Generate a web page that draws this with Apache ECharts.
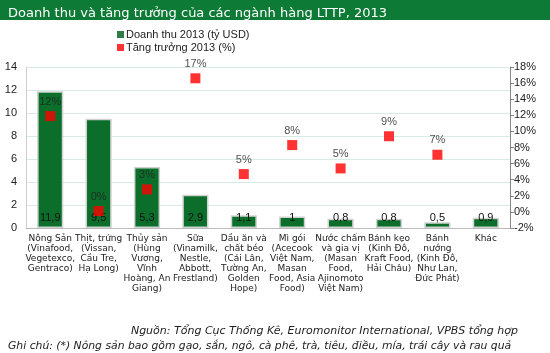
<!DOCTYPE html>
<html>
<head>
<meta charset="utf-8">
<script src="https://cdn.jsdelivr.net/npm/echarts@6/dist/echarts.min.js"></script>
<style>
  html, body { margin: 0; padding: 0; background: #fff; }
  #chart { width: 550px; height: 353px; }
</style>
</head>
<body>
<div id="chart"></div>
<script>
  // data
  const categories = [
    'Nông Sản\n(Vinafood,\nVegetexco,\nGentraco)',
    'Thịt, trứng\n(Vissan,\nCầu Tre,\nHạ Long)',
    'Thủy sản\n(Hùng\nVương,\nVĩnh\nHoàng, An\nGiang)',
    'Sữa\n(Vinamilk,\nNestle,\nAbbott,\nFrestland)',
    'Dầu ăn và\nchất béo\n(Cái Lân,\nTường An,\nGolden\nHope)',
    'Mì gói\n(Acecook\nViệt Nam,\nMasan\nFood, Asia\nFood)',
    'Nước chấm\nvà gia vị\n(Masan\nFood,\nAjinomoto\nViệt Nam)',
    'Bánh kẹo\n(Kinh Đô,\nKraft Food,\nHải Châu)',
    'Bánh\nnướng\n(Kinh Đô,\nNhư Lan,\nĐức Phát)',
    'Khác'
  ];
  const revenue = [11.9, 9.5, 5.3, 2.9, 1.1, 1, 0.8, 0.8, 0.5, 0.9];
  const growth = [11.9, 0.1, 2.8, 16.6, 4.7, 8.3, 5.4, 9.4, 7.1, null];

  const chart = echarts.init(document.getElementById('chart'));

  const options = {
    animation: false,
    title: [
      {
        text: 'Doanh thu và tăng trưởng của các ngành hàng LTTP, 2013',
        left: 3, top: 2,
        textStyle: { color: '#fff', fontFamily: 'DejaVu Sans', fontSize: 13, fontWeight: 'normal' }
      },
      {
        text: 'Nguồn: Tổng Cục Thống Kê, Euromonitor International, VPBS tổng hợp',
        right: 27, top: 321,
        textStyle: { color: '#222', fontFamily: 'DejaVu Sans', fontSize: 11, fontStyle: 'italic', fontWeight: 'normal' }
      },
      {
        text: 'Ghi chú: (*) Nông sản bao gồm gạo, sắn, ngô, cà phê, trà, tiêu, điều, mía, trái cây và rau quả',
        left: 3, top: 336,
        textStyle: { color: '#222', fontFamily: 'DejaVu Sans', fontSize: 10.8, fontStyle: 'italic', fontWeight: 'normal' }
      }
    ],
    graphic: [
      { type: 'rect', z: -1, shape: { x: 0, y: 0, width: 550, height: 20 }, style: { fill: '#0d7a35' } }
    ],
    legend: {
      orient: 'vertical',
      left: 112, top: 24,
      itemGap: 2,
      itemWidth: 7, itemHeight: 7,
      textStyle: { fontFamily: 'Liberation Sans', fontSize: 11, color: '#222', padding: [0, 0, 0, -3] },
      data: [
        { name: 'Doanh thu 2013 (tỷ USD)', icon: 'rect', itemStyle: { color: '#2e7d46', borderWidth: 0 } },
        { name: 'Tăng trưởng 2013 (%)', icon: 'rect', itemStyle: { color: '#ff0000' } }
      ]
    },
    grid: { left: 26, right: 40, top: 67, bottom: 125 },
    xAxis: {
      type: 'category',
      data: categories,
      axisLine: { lineStyle: { color: '#bbb' } },
      axisTick: { show: false },
      axisLabel: {
        interval: 0,
        fontFamily: 'DejaVu Sans', fontSize: 9, lineHeight: 10,
        color: '#222', margin: 6
      }
    },
    yAxis: [
      {
        type: 'value', min: 0, max: 14, interval: 2,
        axisLine: { show: true, lineStyle: { color: '#ccc' } },
        axisTick: { show: false },
        splitLine: { lineStyle: { color: '#d6ebe3' } },
        axisLabel: { fontFamily: 'Liberation Sans', fontSize: 11, color: '#222', margin: 9 }
      },
      {
        type: 'value', min: -2, max: 18, interval: 2, position: 'right',
        axisLine: { show: true, lineStyle: { color: '#888' } },
        axisTick: { show: true, inside: false, length: 4, lineStyle: { color: '#888' } },
        splitLine: { show: false },
        axisLabel: { formatter: '{value}%', fontFamily: 'Liberation Sans', fontSize: 11, color: '#222', margin: 4 }
      }
    ],
    series: [
      {
        name: 'Doanh thu 2013 (tỷ USD)',
        type: 'bar',
        data: revenue,
        barWidth: '54%',
        itemStyle: { color: '#0b6e2b', borderColor: '#cfd3d0', borderWidth: 1.5 },
        label: {
          show: true, position: 'insideBottom', distance: 5,
          fontFamily: 'Liberation Sans', fontSize: 11, color: '#111',
          formatter: p => String(p.value).replace('.', ',')
        }
      },
      {
        name: 'Tăng trưởng 2013 (%)',
        type: 'scatter',
        yAxisIndex: 1,
        data: growth,
        symbol: 'rect',
        symbolSize: 10,
        itemStyle: { color: '#ff0000' },
        label: {
          show: true, position: 'top', distance: 4,
          fontFamily: 'Liberation Sans', fontSize: 11, color: '#222',
          formatter: p => Math.round(p.value[1] !== undefined ? p.value[1] : p.value) + '%'
        }
      }
    ]
  };

  chart.setOption(options);
</script>
</body>
</html>
